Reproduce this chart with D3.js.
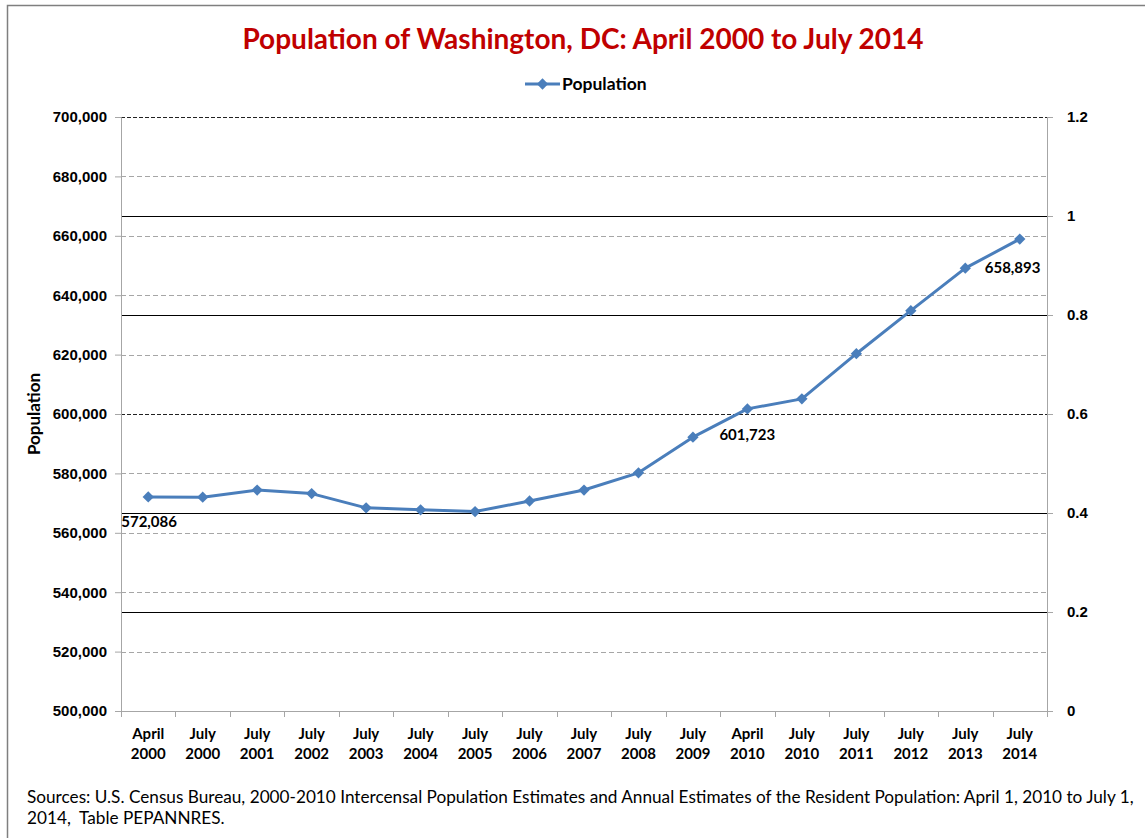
<!DOCTYPE html>
<html>
<head>
<meta charset="utf-8">
<script src="https://cdn.jsdelivr.net/npm/d3@7"></script>
<style>
  body { margin: 0; background: #fff; }
  svg { display: block; font-family: Lato, "Open Sans", sans-serif; }
  .tick text { font-weight: bold; font-size: 15px; fill: #000; }
</style>
</head>
<body>
<div id="chart"></div>
<script>
// categories along the x axis (month, year)
const periods = [
  ['April', '2000'], ['July', '2000'], ['July', '2001'], ['July', '2002'],
  ['July', '2003'], ['July', '2004'], ['July', '2005'], ['July', '2006'],
  ['July', '2007'], ['July', '2008'], ['July', '2009'], ['April', '2010'],
  ['July', '2010'], ['July', '2011'], ['July', '2012'], ['July', '2013'],
  ['July', '2014']
];
const population = [
  572086, 572000, 574400, 573200, 568400, 567750, 567150, 570700,
  574400, 580200, 592200, 601723, 605100, 620300, 634800, 649100, 658893
];
// which points get a value label
const labelled = [0, 11, 16];
const leftTicks = [500000, 520000, 540000, 560000, 580000, 600000, 620000, 640000, 660000, 680000, 700000];
const rightTicks = [0, 0.2, 0.4, 0.6, 0.8, 1, 1.2];

const width = 1145, height = 838;
const margin = {top: 117, right: 98, bottom: 127, left: 121};
const innerW = width - margin.left - margin.right;
const innerH = height - margin.top - margin.bottom;

const svg = d3.select('#chart').append('svg')
    .attr('width', width)
    .attr('height', height);

// outer frame
svg.append('path')
    .attr('d', `M7.5,${height} V5.5 H${width}`)
    .attr('fill', 'none')
    .attr('stroke', '#7f7f7f')
    .attr('stroke-width', 1.5);

const chart = svg.append('g')
    .attr('transform', `translate(${margin.left},${margin.top})`);

const x = d3.scaleBand()
    .domain(periods.map((d, i) => i))
    .range([0, innerW]);

const y = d3.scaleLinear()
    .domain([500000, 700000])
    .range([innerH, 0]);

const y2 = d3.scaleLinear()
    .domain([0, 1.2])
    .range([innerH, 0]);

// solid lines from the secondary axis (0.6 sits on the 600,000 dashed line)
chart.selectAll('.grid2')
    .data(rightTicks.filter(d => d > 0 && d < 1.2 && d !== 0.6))
  .join('line')
    .attr('class', 'grid2')
    .attr('x1', 0).attr('x2', innerW)
    .attr('y1', d => Math.round(y2(d)) + 0.5)
    .attr('y2', d => Math.round(y2(d)) + 0.5)
    .attr('stroke', '#000')
    .attr('stroke-width', 1);

// dashed gridlines (left axis)
chart.selectAll('.grid')
    .data(leftTicks.slice(1))
  .join('line')
    .attr('class', 'grid')
    .attr('x1', 0).attr('x2', innerW)
    .attr('y1', d => Math.round(y(d)) + 0.5)
    .attr('y2', d => Math.round(y(d)) + 0.5)
    .attr('stroke', d => (d === 700000 || d === 600000) ? '#222' : '#a6a6a6')
    .attr('stroke-width', 1)
    .attr('stroke-dasharray', d => (d === 700000 || d === 600000) ? '4,2' : '5,3');

// left axis
const leftAxis = chart.append('g')
    .call(d3.axisLeft(y).tickValues(leftTicks).tickFormat(d3.format(',')).tickSize(6).tickPadding(8));
leftAxis.select('.domain').attr('stroke', '#a6a6a6');
leftAxis.selectAll('.tick line').attr('stroke', '#a6a6a6');

// right axis
const rightAxis = chart.append('g')
    .attr('transform', `translate(${innerW},0)`)
    .call(d3.axisRight(y2).tickValues(rightTicks).tickFormat(d => d).tickSize(6).tickPadding(14));
rightAxis.select('.domain').attr('stroke', '#a6a6a6');
rightAxis.selectAll('.tick line').attr('stroke', '#a6a6a6');

// bottom axis with ticks between categories
chart.append('line')
    .attr('x1', 0).attr('x2', innerW)
    .attr('y1', innerH + 0.5).attr('y2', innerH + 0.5)
    .attr('stroke', '#a6a6a6');
chart.selectAll('.xtick')
    .data(d3.range(periods.length + 1))
  .join('line')
    .attr('class', 'xtick')
    .attr('x1', i => Math.round(i * x.step()) + 0.5)
    .attr('x2', i => Math.round(i * x.step()) + 0.5)
    .attr('y1', innerH).attr('y2', innerH + 6)
    .attr('stroke', '#a6a6a6');

const xLabels = chart.selectAll('.xlabel')
    .data(periods)
  .join('text')
    .attr('class', 'xlabel')
    .attr('text-anchor', 'middle')
    .attr('font-weight', 'bold')
    .attr('font-size', 15)
    .attr('x', (d, i) => x(i) + x.bandwidth() / 2);
xLabels.append('tspan').attr('y', innerH + 28).text(d => d[0]);
xLabels.append('tspan')
    .attr('x', (d, i) => x(i) + x.bandwidth() / 2)
    .attr('y', innerH + 48).text(d => d[1]);

// y axis title
svg.append('text')
    .attr('transform', `translate(40,${margin.top + innerH / 2}) rotate(-90)`)
    .attr('text-anchor', 'middle')
    .attr('font-weight', 'bold')
    .attr('font-size', 17)
    .text('Population');

// the line
const line = d3.line()
    .x((d, i) => x(i) + x.bandwidth() / 2)
    .y(d => y(d));

chart.append('path')
    .datum(population)
    .attr('fill', 'none')
    .attr('stroke', '#4a7ebb')
    .attr('stroke-width', 3)
    .attr('stroke-linejoin', 'round')
    .attr('d', line);

// square markers turned 45 degrees, like Excel's diamonds
const diamond = d3.symbol().type(d3.symbolSquare).size(64);
chart.selectAll('.marker')
    .data(population)
  .join('path')
    .attr('class', 'marker')
    .attr('d', diamond)
    .attr('fill', '#4a7ebb')
    .attr('transform', (d, i) => `translate(${x(i) + x.bandwidth() / 2},${y(d)}) rotate(45)`);

// data labels
const labelOffsets = {0: [-27, 30], 11: [-28, 31], 16: [-35, 34]};
chart.selectAll('.value-label')
    .data(labelled)
  .join('text')
    .attr('class', 'value-label')
    .attr('font-weight', 'bold')
    .attr('font-size', 15)
    .attr('x', i => x(i) + x.bandwidth() / 2 + labelOffsets[i][0])
    .attr('y', i => y(population[i]) + labelOffsets[i][1])
    .text(i => d3.format(',')(population[i]));

// title
svg.append('text')
    .attr('x', 583).attr('y', 49)
    .attr('text-anchor', 'middle')
    .attr('font-weight', 'bold')
    .attr('font-size', 28)
    .attr('fill', '#c00000')
    .text('Population of Washington, DC: April 2000 to July 2014');

// legend
const legend = svg.append('g').attr('transform', 'translate(525,84)');
legend.append('line')
    .attr('x1', 0).attr('x2', 35)
    .attr('stroke', '#4a7ebb').attr('stroke-width', 3);
legend.append('path')
    .attr('d', diamond)
    .attr('fill', '#4a7ebb')
    .attr('transform', 'translate(17.5,0) rotate(45)');
legend.append('text')
    .attr('x', 37).attr('dy', '0.35em')
    .attr('font-weight', 'bold')
    .attr('font-size', 17.5)
    .text('Population');

// source note
const note = svg.append('text')
    .attr('font-size', 17.2)
    .attr('fill', '#000')
    .style('white-space', 'pre');
note.append('tspan').attr('x', 27).attr('y', 803)
    .text('Sources: U.S. Census Bureau, 2000-2010 Intercensal Population Estimates and Annual Estimates of the Resident Population: April 1, 2010 to July 1,');
note.append('tspan').attr('x', 27).attr('y', 824)
    .text('2014,  Table PEPANNRES.');
</script>
</body>
</html>
